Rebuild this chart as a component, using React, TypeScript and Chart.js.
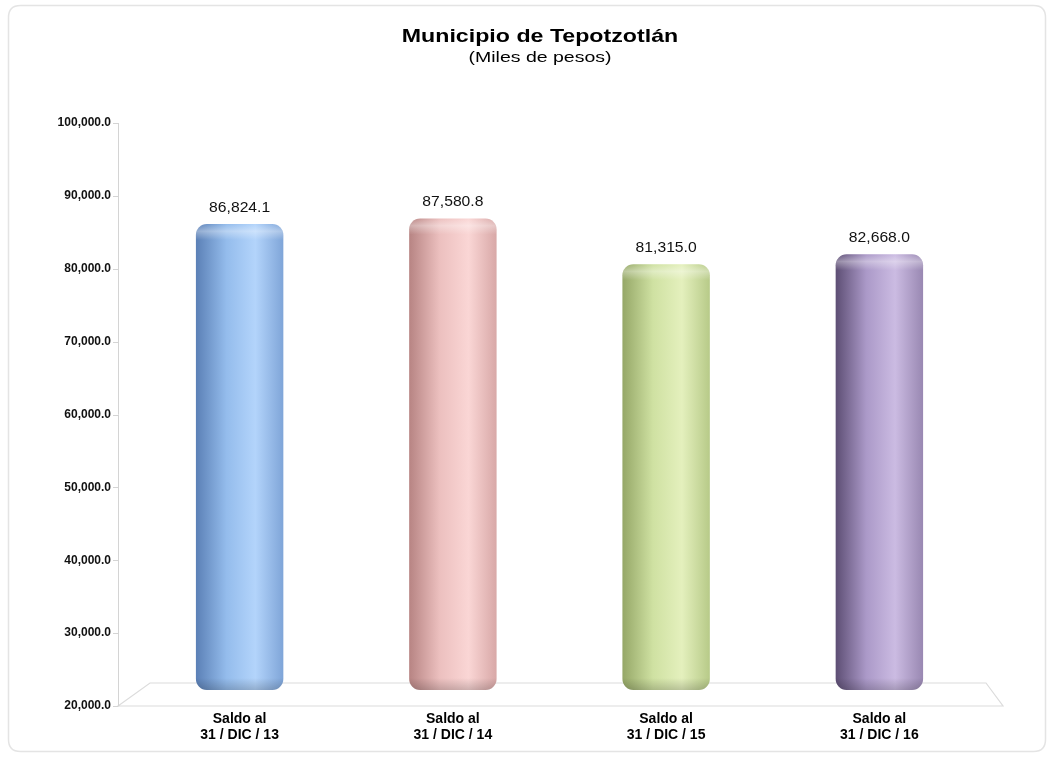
import React, { useEffect, useRef } from "react";
import { Chart, registerables } from "chart.js";

Chart.register(...registerables);

const categories: string[][] = [
  ["Saldo al", "31 / DIC / 13"],
  ["Saldo al", "31 / DIC / 14"],
  ["Saldo al", "31 / DIC / 15"],
  ["Saldo al", "31 / DIC / 16"],
];
const saldo: number[] = [86824.1, 87580.8, 81315.0, 82668.0];
const titleText = "Municipio de Tepotzotlán";
const subtitleText = "(Miles de pesos)";
const yMin = 20000;
const yMax = 100000;
const yStep = 10000;

// left-edge, mid, highlight, right-edge shades per bar
const barShades: string[][] = [
  ["#5b80b6", "#94bcec", "#b3d4fb", "#7fa5d8"],
  ["#b78483", "#ecc0bf", "#fad6d5", "#d8a8a7"],
  ["#95a767", "#cfe1a2", "#e4f0bd", "#b7ca88"],
  ["#5d4e74", "#ab99c8", "#cbbbe2", "#9988b2"],
];

const fmt = (v: number) =>
  v.toLocaleString("en-US", { minimumFractionDigits: 1, maximumFractionDigits: 1 });

const FONT = "'Liberation Sans', Arial, sans-serif";

function roundRectPath(ctx: CanvasRenderingContext2D, l: number, t: number, w: number, h: number, rt: number, rb: number) {
  const r = l + w, b = t + h;
  ctx.beginPath();
  ctx.moveTo(l, t + rt);
  if (rt > 0) ctx.ellipse(l + rt, t + rt, rt, rt, 0, Math.PI, 1.5 * Math.PI);
  ctx.lineTo(r - rt, t);
  if (rt > 0) ctx.ellipse(r - rt, t + rt, rt, rt, 0, 1.5 * Math.PI, 2 * Math.PI);
  ctx.lineTo(r, b - rb);
  if (rb > 0) ctx.ellipse(r - rb, b - rb, rb, rb, 0, 0, 0.5 * Math.PI);
  ctx.lineTo(l + rb, b);
  if (rb > 0) ctx.ellipse(l + rb, b - rb, rb, rb, 0, 0.5 * Math.PI, Math.PI);
  ctx.closePath();
}

function stretchedText(ctx: CanvasRenderingContext2D, text: string, x: number, y: number, sx: number) {
  ctx.save();
  ctx.translate(x, y);
  ctx.scale(sx, 1);
  ctx.fillText(text, 0, 0);
  ctx.restore();
}

const decorPlugin = {
  id: "decor",
  beforeDraw(chart: any) {
    const ctx: CanvasRenderingContext2D = chart.ctx;
    const { left, right, top, bottom } = chart.chartArea;
    ctx.save();
    // outer frame
    ctx.strokeStyle = "#e4e4e4";
    ctx.lineWidth = 1.5;
    ctx.beginPath();
    const fl = 8.5, ft = 5.5, fr = chart.width - 6.5, fb = chart.height - 5.5, rr = 12;
    ctx.moveTo(fl + rr, ft);
    ctx.lineTo(fr - rr, ft);
    ctx.quadraticCurveTo(fr, ft, fr, ft + rr);
    ctx.lineTo(fr, fb - rr);
    ctx.quadraticCurveTo(fr, fb, fr - rr, fb);
    ctx.lineTo(fl + rr, fb);
    ctx.quadraticCurveTo(fl, fb, fl, fb - rr);
    ctx.lineTo(fl, ft + rr);
    ctx.quadraticCurveTo(fl, ft, fl + rr, ft);
    ctx.stroke();

    // title
    const cx = 540;
    ctx.fillStyle = "#000";
    ctx.textAlign = "center";
    ctx.textBaseline = "middle";
    ctx.font = `bold 19px ${FONT}`;
    stretchedText(ctx, titleText, cx, 37, 1.22);
    ctx.font = `15px ${FONT}`;
    stretchedText(ctx, subtitleText, cx, 58, 1.3);

    // 3D floor
    const axX = left - 15;
    ctx.strokeStyle = "#dcdcdc";
    ctx.lineWidth = 1.2;
    ctx.beginPath();
    ctx.moveTo(axX, bottom);
    ctx.lineTo(left + 17, bottom - 23);
    ctx.lineTo(right, bottom - 23);
    ctx.lineTo(right + 17, bottom);
    ctx.closePath();
    ctx.stroke();

    // y axis line and tick marks
    const ys = chart.scales.y;
    ctx.strokeStyle = "#d4d4d4";
    ctx.lineWidth = 1;
    ctx.beginPath();
    ctx.moveTo(axX + 0.5, top);
    ctx.lineTo(axX + 0.5, bottom);
    ys.ticks.forEach((t: any) => {
      const py = Math.round(ys.getPixelForValue(t.value)) + 0.5;
      ctx.moveTo(axX - 5, py);
      ctx.lineTo(axX + 0.5, py);
    });
    ctx.stroke();
    ctx.restore();
  },
  afterDatasetsDraw(chart: any) {
    const ctx: CanvasRenderingContext2D = chart.ctx;
    const meta = chart.getDatasetMeta(0);
    const ds = chart.data.datasets[0];
    ctx.save();
    meta.data.forEach((el: any, i: number) => {
      const { x, y, base, width } = el.getProps(["x", "y", "base", "width"], true);
      const l = x - width / 2;
      const t = y + 5;
      const b = Math.min(base, chart.chartArea.bottom) - 16;
      const sh = barShades[i % barShades.length];
      const g = ctx.createLinearGradient(l, 0, l + width, 0);
      g.addColorStop(0, sh[0]);
      g.addColorStop(0.35, sh[1]);
      g.addColorStop(0.68, sh[2]);
      g.addColorStop(1, sh[3]);
      roundRectPath(ctx, l, t, width, b - t, 11, 11);
      ctx.fillStyle = g;
      ctx.fill();
      // top cap highlight
      const vg = ctx.createLinearGradient(0, t, 0, t + 16);
      vg.addColorStop(0, "rgba(255,255,255,0.0)");
      vg.addColorStop(0.45, "rgba(255,255,255,0.35)");
      vg.addColorStop(1, "rgba(255,255,255,0)");
      roundRectPath(ctx, l, t, width, 16, 11, 0);
      ctx.fillStyle = vg;
      ctx.fill();
      // bottom shading
      const bg = ctx.createLinearGradient(0, b - 12, 0, b);
      bg.addColorStop(0, "rgba(0,0,0,0)");
      bg.addColorStop(1, "rgba(0,0,0,0.18)");
      roundRectPath(ctx, l, b - 12, width, 12, 0, 11);
      ctx.fillStyle = bg;
      ctx.fill();

      // value label
      ctx.fillStyle = "#111";
      ctx.font = `14px ${FONT}`;
      ctx.textAlign = "center";
      ctx.textBaseline = "middle";
      stretchedText(ctx, fmt(ds.data[i]), x, y - 11, 1.12);
    });
    ctx.restore();
  },
};

export default function App() {
  const ref = useRef<HTMLCanvasElement | null>(null);
  useEffect(() => {
    document.body.style.margin = "0";
    const canvas = ref.current;
    if (!canvas) return;
    const chart = new Chart(canvas, {
      type: "bar",
      data: {
        labels: categories,
        datasets: [
          {
            data: saldo,
            base: yMin,
            backgroundColor: "rgba(0,0,0,0)",
            borderWidth: 0,
            barPercentage: 0.41,
            categoryPercentage: 1,
          },
        ],
      },
      options: {
        animation: false,
        responsive: false,
        maintainAspectRatio: false,
        events: [],
        layout: { padding: { top: 123, left: 10, right: 66, bottom: 0 } },
        plugins: {
          legend: { display: false },
          title: { display: false },
          tooltip: { enabled: false },
        },
        scales: {
          x: {
            grid: { display: false, drawTicks: false },
            border: { display: false },
            ticks: {
              color: "#000",
              padding: 5,
              font: { family: FONT, size: 14, weight: "bold", lineHeight: 1.15 },
              maxRotation: 0,
            },
            afterFit: (s: any) => {
              s.height = 51;
            },
          },
          y: {
            min: yMin,
            max: yMax,
            grid: { display: false, drawTicks: false },
            border: { display: false },
            ticks: {
              stepSize: yStep,
              color: "#111",
              padding: 22,
              font: { family: FONT, size: 12, weight: "bold" },
              callback: (v: any) => fmt(Number(v)),
            },
            afterFit: (s: any) => {
              s.width = 123;
            },
          },
        },
      },
      plugins: [decorPlugin],
    });
    return () => chart.destroy();
  }, []);
  return (
    <div style={{ width: 1052, height: 757, background: "#fff" }}>
      <canvas ref={ref} width={1052} height={757} style={{ display: "block" }} />
    </div>
  );
}
